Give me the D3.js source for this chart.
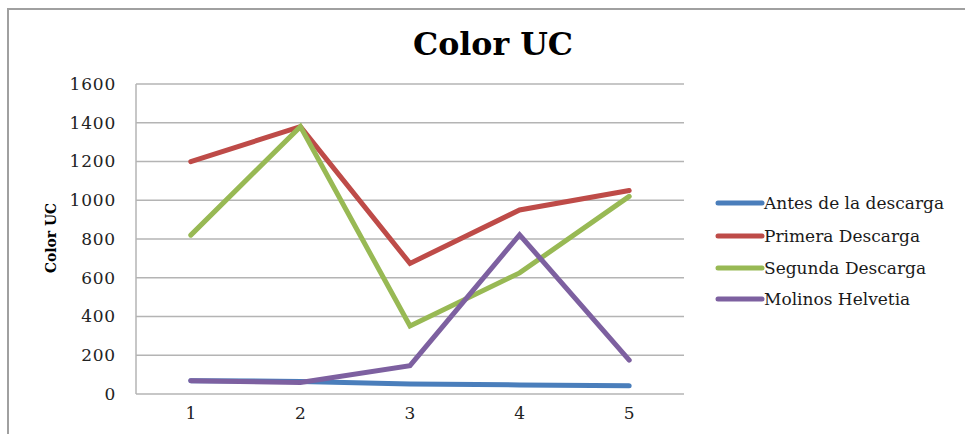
<!DOCTYPE html>
<html>
<head>
<meta charset="utf-8">
<script src="https://cdn.jsdelivr.net/npm/d3@7"></script>
<style>
  html, body { margin: 0; padding: 0; background: #fff; }
  svg { display: block; }
  text { font-family: "DejaVu Serif", "Liberation Serif", serif; fill: #222; }
</style>
</head>
<body>
<svg id="chart" width="965" height="434"></svg>
<script>
// Muestras 1..5
const categories = ["1", "2", "3", "4", "5"];
const yTicks = [0, 200, 400, 600, 800, 1000, 1200, 1400, 1600];

const antes    = [69, 65, 52, 47, 42];
const primera  = [1199, 1380, 674, 950, 1050];
const segunda  = [820, 1380, 351, 625, 1020];
const molinos  = [69, 60, 146, 822, 175];

const seriesNames  = ["Antes de la descarga", "Primera Descarga", "Segunda Descarga", "Molinos Helvetia"];
const seriesValues = [antes, primera, segunda, molinos];
const seriesColors = ["#4A7EBB", "#BE4B48", "#98B954", "#7D60A0"];

const svg = d3.select("#chart");

// Marco del gráfico
svg.append("path")
  .attr("d", "M8,434 V9 H965")
  .attr("fill", "none")
  .attr("stroke", "#a0a0a0")
  .attr("stroke-width", 2);

const plot = { left: 136, right: 684, top: 84, bottom: 394 };

const x = d3.scaleBand().domain(categories).range([plot.left, plot.right]);
const y = d3.scaleLinear().domain([0, 1600]).range([plot.bottom, plot.top]);

// Líneas de cuadrícula
svg.append("g")
  .selectAll("line")
  .data(yTicks)
  .join("line")
  .attr("x1", plot.left).attr("x2", plot.right)
  .attr("y1", d => y(d)).attr("y2", d => y(d))
  .attr("stroke", "#b4b4b4")
  .attr("stroke-width", 1.5);

// Eje vertical
svg.append("line")
  .attr("x1", plot.left).attr("x2", plot.left)
  .attr("y1", plot.top).attr("y2", plot.bottom)
  .attr("stroke", "#b4b4b4")
  .attr("stroke-width", 1.5);

// Etiquetas del eje Y
const yAxis = svg.append("g")
  .attr("transform", `translate(${plot.left - 20},0)`)
  .call(d3.axisLeft(y).tickValues(yTicks).tickSize(0).tickPadding(0).tickFormat(d3.format("d")));
yAxis.select(".domain").remove();
yAxis.selectAll("text")
  .style("font-family", "'DejaVu Serif', serif")
  .style("font-size", "17px")
  .style("letter-spacing", "0.8px")
  .attr("fill", "#2a2a2a");

// Etiquetas del eje X
const xAxis = svg.append("g")
  .attr("transform", `translate(0,${plot.bottom + 13})`)
  .call(d3.axisBottom(x).tickSize(0).tickPadding(0));
xAxis.select(".domain").remove();
xAxis.selectAll("text")
  .style("font-family", "'DejaVu Serif', serif")
  .style("font-size", "17px")
  .attr("fill", "#2a2a2a");

// Series
const line = d3.line()
  .x((d, i) => x(categories[i]) + x.bandwidth() / 2)
  .y(d => y(d));

svg.append("g")
  .selectAll("path")
  .data(seriesValues)
  .join("path")
  .attr("d", d => line(d))
  .attr("fill", "none")
  .attr("stroke", (d, i) => seriesColors[i])
  .attr("stroke-width", 5)
  .attr("stroke-linejoin", "miter")
  .attr("stroke-linecap", "round");

// Título
svg.append("text")
  .attr("x", 493).attr("y", 55)
  .attr("text-anchor", "middle")
  .attr("textLength", 160)
  .attr("lengthAdjust", "spacingAndGlyphs")
  .style("font-size", "32px")
  .style("font-weight", "bold")
  .style("fill", "#000")
  .text("Color UC");

// Título del eje Y
svg.append("text")
  .attr("transform", "translate(56,238) rotate(-90)")
  .attr("text-anchor", "middle")
  .attr("textLength", 70)
  .attr("lengthAdjust", "spacingAndGlyphs")
  .style("font-size", "15px")
  .style("font-weight", "bold")
  .style("fill", "#000")
  .text("Color UC");

// Leyenda
const legend = svg.append("g");
const rowY = [203, 236, 268, 299];
seriesNames.forEach((name, i) => {
  legend.append("line")
    .attr("x1", 718).attr("x2", 762)
    .attr("y1", rowY[i]).attr("y2", rowY[i])
    .attr("stroke", seriesColors[i])
    .attr("stroke-width", 5)
    .attr("stroke-linecap", "round");
  legend.append("text")
    .attr("x", 764).attr("y", rowY[i] + 6)
    .style("font-size", "17px")
    .style("fill", "#1a1a1a")
    .text(name);
});
</script>
</body>
</html>
